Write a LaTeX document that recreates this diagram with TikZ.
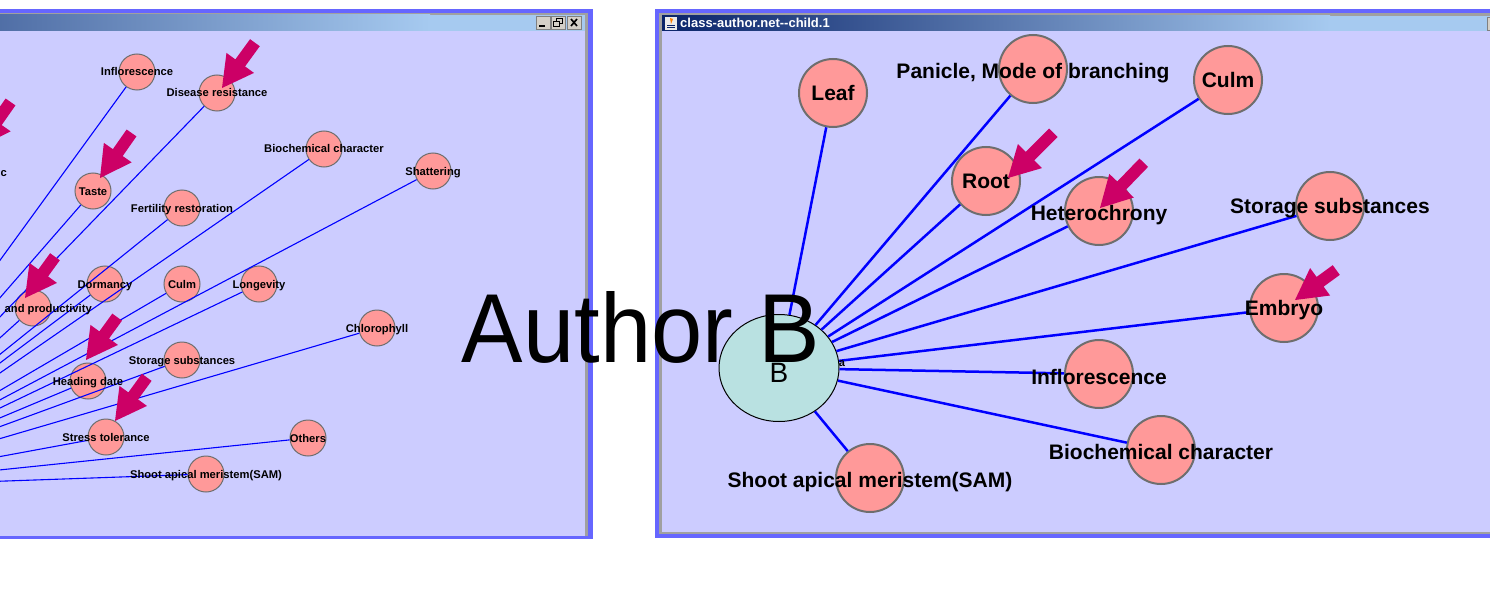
\documentclass[tikz,border=0pt]{standalone}
\usepackage{fontspec}
\setmainfont{Liberation Sans}
\usepackage{tikz}
\usetikzlibrary{shapes.geometric}
\usepackage{xcolor}

\definecolor{framebl}{HTML}{6666FF}
\definecolor{canvasbg}{HTML}{CCCCFF}
\definecolor{nodepink}{HTML}{FF9999}
\definecolor{nodegray}{HTML}{6E6E6E}
\definecolor{hubcyan}{HTML}{B9E1E1}
\definecolor{edgeblue}{HTML}{0000FF}
\definecolor{markred}{HTML}{CC0066}
\definecolor{titledark}{HTML}{0A246A}
\definecolor{titlelight}{HTML}{A6CAF0}
\definecolor{btnface}{HTML}{D4D0C8}
\definecolor{btnshade}{HTML}{808080}
\definecolor{rimgray}{HTML}{A0A0A0}

% block arrow: tip x, tip y, angle, length
\newcommand{\tagarrow}[4]{%
  \fill[markred, shift={(#1,#2)}, rotate=#3] (0,0) -- (-31,17) -- (-31,6) -- (-#4,6) -- (-#4,-6) -- (-31,-6) -- (-31,-17) -- cycle;}

\begin{document}
\begin{tikzpicture}[x=1pt,y=-1pt,
  trait/.style={circle, draw=nodegray, fill=nodepink, line width=1pt, minimum size=36pt, inner sep=0pt},
  bigtrait/.style={circle, draw=nodegray, fill=nodepink, line width=2pt, minimum size=68pt, inner sep=0pt},
  hubnode/.style={ellipse, draw=black, fill=hubcyan, line width=1pt, minimum width=120pt, minimum height=107pt, inner sep=0pt},
  thinedge/.style={edgeblue, line width=1.1pt},
  thickedge/.style={edgeblue, line width=2.5pt},
  smalllbl/.style={font=\fontsize{11.2}{13}\selectfont\bfseries, anchor=base, yshift=-4pt, inner sep=0pt},
  biglbl/.style={font=\fontsize{21}{24}\selectfont\bfseries, anchor=base, yshift=-7.5pt, inner sep=0pt}]

\useasboundingbox (0,0) rectangle (1490,607);
\fill[white] (0,0) rectangle (1490,607);

% left window
\begin{scope}
\clip (0,0) rectangle (600,607);
\fill[framebl] (-5,9) rectangle (593,539);
\fill[rimgray] (-5,13) rectangle (588,536);
\fill[canvasbg] (-5,31) rectangle (585,536);
\shade[left color=titledark, right color=titlelight] (-352,15) rectangle (430,31);
\fill[titlelight] (430,15) rectangle (585,31);
\foreach \bx in {536,551,567}
  \filldraw[fill=btnface, draw=btnshade] (\bx,16) rectangle ++(14,13);
\fill (539,25) rectangle (545,27);
\draw[line width=1pt] (556,19) rectangle (562,24);
\filldraw[fill=btnface, draw=black, line width=1pt] (553,22) rectangle (559,27);
\draw[line width=1.6pt] (571,19) -- (577,26) (577,19) -- (571,26);
\end{scope}

% right window
\fill[framebl] (655,9) rectangle (1495,538);
\fill[rimgray] (659,13) rectangle (1495,534);
\fill[canvasbg] (662,31) rectangle (1495,532);
\shade[left color=titledark, right color=titlelight] (662,16) rectangle (1330,31);
\fill[titlelight] (1330,16) rectangle (1495,31);
\filldraw[fill=btnface, draw=btnshade] (1487,17) rectangle ++(14,13);
\fill[white!85!gray] (665,17) rectangle (677,30);
\fill[orange] (670,18) -- (673,19) -- (671,24) -- cycle;
\draw[titledark, line width=0.8pt] (667,25) -- (675,25) (667,27.5) -- (675,27.5);
\node[anchor=base west, inner sep=0pt, text=white, font=\fontsize{13}{15}\selectfont\bfseries] (wintitle) at (680,28) {class-author.net-{}-child.1};

% left network, hub lies off to the left
\begin{scope}
\clip (0,31) rectangle (585,536);
\coordinate (lhub) at (-165,487);

\node[trait] (lInfl) at (137,72) {};
\node[trait] (lDis) at (217,93) {};
\node[trait] (lBio) at (324,149) {};
\node[trait] (lShat) at (433,171) {};
\node[trait] (lTaste) at (93,191) {};
\node[trait] (lFert) at (182,208) {};
\node[trait] (lDorm) at (105,284) {};
\node[trait] (lCulm) at (182,284) {};
\node[trait] (lLong) at (259,284) {};
\node[trait] (lYield) at (33,308) {};
\node[trait] (lChl) at (377,328) {};
\node[trait] (lStor) at (182,360) {};
\node[trait] (lHead) at (88,381) {};
\node[trait] (lStress) at (106,437) {};
\node[trait] (lOthers) at (308,438) {};
\node[trait] (lSAM) at (206,474) {};

\foreach \n in {lInfl,lDis,lBio,lShat,lTaste,lFert,lDorm,lCulm,lLong,lYield,lChl,lStor,lHead,lStress,lOthers,lSAM}
  \draw[thinedge] (lhub) -- (\n);

\node[smalllbl] at (lInfl) {Inflorescence};
\node[smalllbl] at (lDis) {Disease resistance};
\node[smalllbl] at (lBio) {Biochemical character};
\node[smalllbl] at (lShat) {Shattering};
\node[smalllbl] at (lTaste) {Taste};
\node[smalllbl] at (lFert) {Fertility restoration};
\node[smalllbl] at (lDorm) {Dormancy};
\node[smalllbl] at (lCulm) {Culm};
\node[smalllbl] at (lLong) {Longevity};
\node[smalllbl, anchor=base east] at (92,308) {and productivity};
\node[smalllbl] at (lChl) {Chlorophyll};
\node[smalllbl] at (lStor) {Storage substances};
\node[smalllbl] at (lHead) {Heading date};
\node[smalllbl] at (lStress) {Stress tolerance};
\node[smalllbl] at (lOthers) {Others};
\node[smalllbl] at (lSAM) {Shoot apical meristem(SAM)};
\node[smalllbl, anchor=base east] at (7,172) {c};

\tagarrow{222}{88}{234}{56}
\tagarrow{100}{178}{235}{55}
\tagarrow{-21}{147}{235}{55}
\tagarrow{25}{298}{234}{51}
\tagarrow{86}{360}{234}{53}
\tagarrow{115}{421}{234}{54}
\end{scope}

% right network
\begin{scope}
\clip (662,31) rectangle (1490,532);
\node[hubnode] (hub) at (779,368) {};

\node[bigtrait] (rLeaf) at (833,93) {};
\node[bigtrait] (rPan) at (1033,69) {};
\node[bigtrait] (rCulm) at (1228,80) {};
\node[bigtrait] (rRoot) at (986,181) {};
\node[bigtrait] (rHet) at (1099,211) {};
\node[bigtrait] (rStor) at (1330,206) {};
\node[bigtrait] (rEmb) at (1284,308) {};
\node[bigtrait] (rInfl) at (1099,374) {};
\node[bigtrait] (rBio) at (1161,450) {};
\node[bigtrait] (rSAM) at (870,478) {};

\foreach \n in {rLeaf,rPan,rCulm,rRoot,rHet,rStor,rEmb,rInfl,rBio,rSAM}
  \draw[thickedge] (hub) -- (\n);

\node[inner sep=0pt, anchor=base, font=\fontsize{28}{30}\selectfont] at (hub) [yshift=-14pt] {B};
\node[inner sep=0pt, anchor=base, font=\fontsize{11}{12}\selectfont\bfseries] at (842,366) {a};

\node[biglbl] at (rLeaf) {Leaf};
\node[biglbl] at ([yshift=-2pt]rPan) {Panicle, Mode of branching};
\node[biglbl] at (rCulm) {Culm};
\node[biglbl] at (rRoot) {Root};
\node[biglbl] at ([yshift=-2pt]rHet) {Heterochrony};
\node[biglbl] at (rStor) {Storage substances};
\node[biglbl] at (rEmb) {Embryo};
\node[biglbl] at ([yshift=-3pt]rInfl) {Inflorescence};
\node[biglbl] at ([yshift=-2pt]rBio) {Biochemical character};
\node[biglbl] at ([yshift=-2pt]rSAM) {Shoot apical meristem(SAM)};

\tagarrow{1008}{178}{225}{64}
\tagarrow{1100}{208}{226}{63}
\tagarrow{1295}{300}{216}{51}
\end{scope}

\node[anchor=base, inner sep=0pt, xscale=0.94, font=\fontsize{98}{110}\selectfont] (caption) at (641,362) {Author B};

\end{tikzpicture}
\end{document}
